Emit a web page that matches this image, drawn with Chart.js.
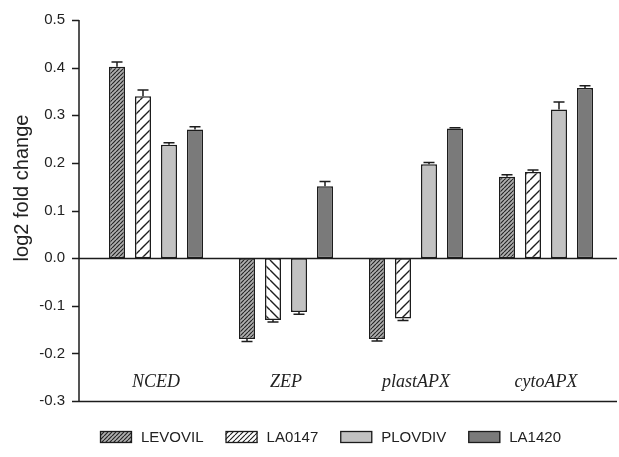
<!DOCTYPE html>
<html>
<head>
<meta charset="utf-8">
<script src="https://cdn.jsdelivr.net/npm/chart.js@4/dist/chart.umd.min.js"></script>
<style>
  html, body { margin: 0; padding: 0; background: #ffffff; }
  #wrap { width: 619px; height: 457px; }
</style>
</head>
<body>
<div id="wrap"><canvas id="c" width="619" height="457"></canvas></div>
<script>
// Genes on the category axis
const genes = ['NCED', 'ZEP', 'plastAPX', 'cytoAPX'];
// Cultivars (one dataset each)
const cultivars = ['LEVOVIL', 'LA0147', 'PLOVDIV', 'LA1420'];

// log2 fold change per gene
const levovil = [0.402, -0.170, -0.170, 0.171];
const la0147  = [0.340, -0.130, -0.127, 0.181];
const plovdiv = [0.238, -0.113, 0.197, 0.312];
const la1420  = [0.270, 0.151, 0.272, 0.357];

// standard errors
const levovilErr = [0.010, 0.005, 0.004, 0.004];
const la0147Err  = [0.013, 0.004, 0.004, 0.004];
const plovdivErr = [0.004, 0.005, 0.004, 0.016];
const la1420Err  = [0.006, 0.010, 0.002, 0.005];

// value axis
const yMin = -0.3, yMax = 0.5, yStep = 0.1;
const yTitle = 'log2 fold change';

const INK = '#1c1c1c';

function hatch(bg, fg, period, lw, dir) {
  const c = document.createElement('canvas');
  c.width = period; c.height = period;
  const x = c.getContext('2d');
  x.fillStyle = bg;
  x.fillRect(0, 0, period, period);
  x.strokeStyle = fg;
  x.lineWidth = lw;
  x.beginPath();
  for (const o of [-period, 0, period]) {
    if (dir > 0) { x.moveTo(o, period); x.lineTo(o + period, 0); }
    else { x.moveTo(o, 0); x.lineTo(o + period, period); }
  }
  x.stroke();
  return x.createPattern(c, 'repeat');
}

const denseGray = hatch('#b0b0b0', '#262626', 4, 1.2, 1);
const wideSlash = hatch('#ffffff', '#1e1e1e', 10, 1.4, 1);
const wideBack  = hatch('#ffffff', '#1e1e1e', 10, 1.4, -1);
const legendSlash = hatch('#ffffff', '#1e1e1e', 5, 1.1, 1);
const lightGray = '#c2c2c2';
const darkGray = '#7a7a7a';

const values = [levovil, la0147, plovdiv, la1420];
const errors = [levovilErr, la0147Err, plovdivErr, la1420Err];
const fills = [
  denseGray,
  [wideSlash, wideBack, wideSlash, wideSlash],
  lightGray,
  darkGray
];
const legendFills = [denseGray, legendSlash, lightGray, darkGray];

const datasets = cultivars.map((name, i) => ({
  label: name,
  data: values[i],
  backgroundColor: fills[i],
  borderColor: INK,
  borderWidth: 1.5,
  borderSkipped: false,
  categoryPercentage: 0.8,
  barPercentage: 0.615
}));

const decor = {
  id: 'decor',
  afterDatasetsDraw(chart) {
    const ctx = chart.ctx;
    const ys = chart.scales.y, xs = chart.scales.x;
    const axisX = 79;
    const rightEnd = 617;
    ctx.save();
    ctx.strokeStyle = INK;
    ctx.lineWidth = 1.5;

    // error bars (one-sided, away from zero)
    values.forEach((vals, i) => {
      const meta = chart.getDatasetMeta(i);
      vals.forEach((v, j) => {
        const bar = meta.data[j];
        const e = errors[i][j];
        const y0 = ys.getPixelForValue(v);
        const y1 = ys.getPixelForValue(v >= 0 ? v + e : v - e);
        ctx.beginPath();
        ctx.moveTo(bar.x, y0);
        ctx.lineTo(bar.x, y1);
        ctx.moveTo(bar.x - 5.5, y1);
        ctx.lineTo(bar.x + 5.5, y1);
        ctx.stroke();
      });
    });

    // zero line
    const yz = Math.round(ys.getPixelForValue(0)) + 0.5;
    ctx.beginPath();
    ctx.moveTo(axisX, yz);
    ctx.lineTo(rightEnd, yz);
    ctx.stroke();

    // left axis line with outward ticks
    ctx.beginPath();
    ctx.moveTo(axisX, ys.getPixelForValue(yMax));
    ctx.lineTo(axisX, ys.getPixelForValue(yMin));
    ys.ticks.forEach(t => {
      const ty = Math.round(ys.getPixelForValue(t.value)) + 0.5;
      ctx.moveTo(axisX - 7, ty);
      ctx.lineTo(axisX, ty);
    });
    ctx.stroke();

    // bottom line
    const yb = Math.round(ys.getPixelForValue(yMin)) + 0.5;
    ctx.beginPath();
    ctx.moveTo(axisX, yb);
    ctx.lineTo(rightEnd, yb);
    ctx.stroke();

    // gene names inside the plot, above the bottom line
    ctx.fillStyle = '#222';
    ctx.font = 'italic 18px "Liberation Serif", "Times New Roman", serif';
    ctx.textAlign = 'center';
    ctx.textBaseline = 'middle';
    genes.forEach((g, i) => {
      ctx.fillText(g, xs.getPixelForValue(i), yb - 19);
    });

    // value axis title
    ctx.save();
    ctx.translate(22, 188);
    ctx.rotate(-Math.PI / 2);
    ctx.font = '20px "Liberation Sans", Arial, sans-serif';
    ctx.fillText(yTitle, 0, 0);
    ctx.restore();

    // legend row
    ctx.font = '15px "Liberation Sans", Arial, sans-serif';
    ctx.textAlign = 'left';
    let lx = 100;
    const ly = 437;
    cultivars.forEach((name, i) => {
      ctx.fillStyle = legendFills[i];
      ctx.fillRect(lx, ly - 6, 32, 12);
      ctx.lineWidth = 1.3;
      ctx.strokeRect(lx + 0.5, ly - 5.5, 31, 11);
      ctx.fillStyle = '#222';
      ctx.fillText(name, lx + 41, ly + 1);
      lx += 41 + ctx.measureText(name).width + 22;
    });
    ctx.restore();
  }
};

new Chart(document.getElementById('c'), {
  type: 'bar',
  data: { labels: genes, datasets },
  options: {
    responsive: false,
    animation: false,
    devicePixelRatio: 1,
    layout: { padding: { top: 20, right: 8, bottom: 56, left: 0 } },
    plugins: { legend: { display: false }, tooltip: { enabled: false } },
    scales: {
      x: { display: false },
      y: {
        min: yMin,
        max: yMax,
        afterFit(s) {
          s.width = 91;
          s.paddingTop = 0;
          s.paddingBottom = 0;
        },
        grid: { display: false, drawTicks: false },
        border: { display: false },
        ticks: {
          stepSize: yStep,
          padding: 26,
          color: '#222',
          font: { family: '"Liberation Sans", Arial, sans-serif', size: 15 },
          callback: v => Number(v).toFixed(1)
        }
      }
    }
  },
  plugins: [decor]
});
</script>
</body>
</html>
